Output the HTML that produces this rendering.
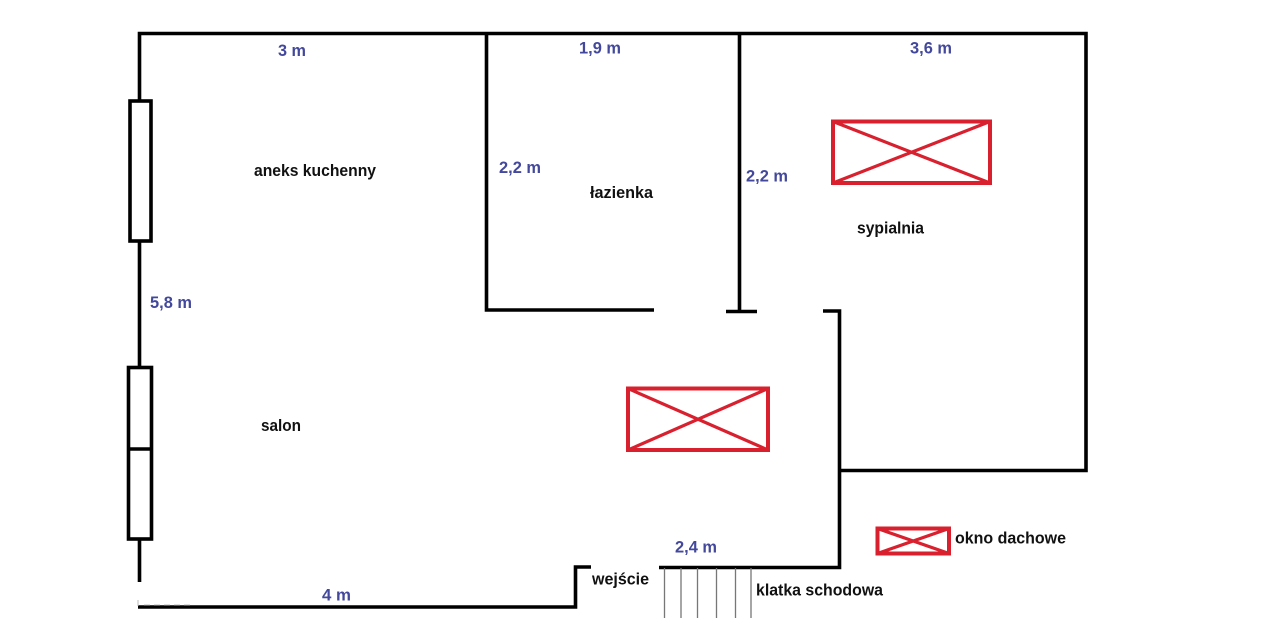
<!DOCTYPE html>
<html><head><meta charset="utf-8"><style>
html,body{margin:0;padding:0;background:#fff}
svg{display:block}
text{font-family:"Liberation Sans",sans-serif;font-weight:bold;font-size:17px}
.k{fill:#111}.b{fill:#43489c}
</style></head><body>
<svg width="1280" height="618" viewBox="0 0 1280 618" xmlns="http://www.w3.org/2000/svg">
<rect width="1280" height="618" fill="#fff"/>
<g fill="none" stroke="#000" stroke-width="3.6">
<path d="M139.500 101V33.500H1086V470.500H839"/>
<path d="M139.500 241V367M139.500 539V582"/>
<path d="M138 607H575.500V567H591"/>
<path d="M486.500 33.500V310H654"/>
<path d="M739.500 33.500V312M726 311.500H757"/>
<path d="M823 311H839.500V567.500H659"/>
<rect x="130" y="101" width="21" height="140"/>
<rect x="128.500" y="367.500" width="23" height="171.500"/>
<path d="M128.500 449H151.500"/>
</g>
<path d="M138 600V606M144 605H190" stroke="#bbb" stroke-width="1" stroke-dasharray="6 4" fill="none"/>
<g stroke="#777" stroke-width="1.300">
<path d="M664.500 568V618M681 568V618M697.500 568V618M716.500 568V618M735.500 568V618M751 568V618"/>
</g>
<g fill="none" stroke="#d9202e">
<g stroke-width="4">
<rect x="833" y="121.500" width="157" height="61.500"/>
<rect x="628" y="388.500" width="140" height="61.500"/>
<rect x="877.500" y="528.500" width="71.500" height="25"/>
</g>
<g stroke-width="3.200">
<path d="M833 121.500L990 183M990 121.500L833 183"/>
<path d="M628 388.500L768 450M768 388.500L628 450"/>
<path d="M877.500 528.500L949 553.500M949 528.500L877.500 553.500"/>
</g>
</g>
<g class="k">
<text x="254" y="176" textLength="122" lengthAdjust="spacingAndGlyphs">aneks kuchenny</text>
<text x="590" y="198" textLength="63" lengthAdjust="spacingAndGlyphs">łazienka</text>
<text x="857" y="233.500" textLength="67" lengthAdjust="spacingAndGlyphs">sypialnia</text>
<text x="261" y="431" textLength="40" lengthAdjust="spacingAndGlyphs">salon</text>
<text x="592" y="584.500" textLength="57" lengthAdjust="spacingAndGlyphs">wejście</text>
<text x="756" y="595.500" textLength="127" lengthAdjust="spacingAndGlyphs">klatka schodowa</text>
<text x="955" y="543.500" textLength="111" lengthAdjust="spacingAndGlyphs">okno dachowe</text>
</g>
<g class="b">
<text x="278" y="56" textLength="28" lengthAdjust="spacingAndGlyphs">3 m</text>
<text x="579" y="53.500" textLength="42" lengthAdjust="spacingAndGlyphs">1,9 m</text>
<text x="910" y="53.500" textLength="42" lengthAdjust="spacingAndGlyphs">3,6 m</text>
<text x="499" y="173" textLength="42" lengthAdjust="spacingAndGlyphs">2,2 m</text>
<text x="746" y="181.500" textLength="42" lengthAdjust="spacingAndGlyphs">2,2 m</text>
<text x="150" y="308" textLength="42" lengthAdjust="spacingAndGlyphs">5,8 m</text>
<text x="322" y="600.500" textLength="29" lengthAdjust="spacingAndGlyphs">4 m</text>
<text x="675" y="552.500" textLength="42" lengthAdjust="spacingAndGlyphs">2,4 m</text>
</g>
</svg>
</body></html>
